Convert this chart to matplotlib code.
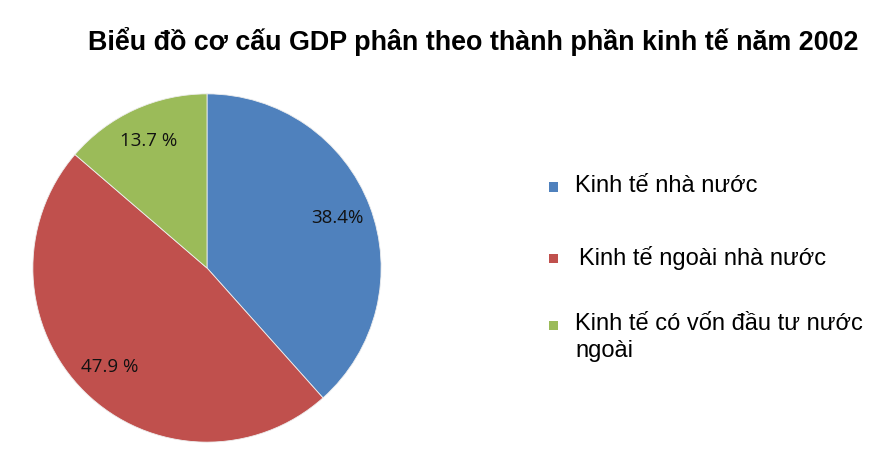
import matplotlib
matplotlib.use('Agg')
import matplotlib.pyplot as plt
from matplotlib.patches import Rectangle

# GDP structure by economic sector, 2002 (%)
sectors = ['Kinh tế nhà nước', 'Kinh tế ngoài nhà nước', 'Kinh tế có vốn đầu tư nước\nngoài']
shares = [38.4, 47.9, 13.7]
pct_labels = ['38.4%', '47.9 %', '13.7 %']
colors = ['#4F81BD', '#C0504D', '#9BBB59']

plt.rcParams['font.family'] = ['Liberation Sans', 'DejaVu Sans']

W, H = 885, 455
fig = plt.figure(figsize=(W / 100, H / 100), dpi=100)
ax = fig.add_axes([32 / W, (H - 443) / H, 350 / W, 350 / H])

wedges, _, autotexts = ax.pie(shares, colors=colors, startangle=90, counterclock=False,
                              autopct='%1.1f', pctdistance=0.8,
                              wedgeprops=dict(edgecolor='#eeeeee', linewidth=0.6))
for t, lab in zip(autotexts, pct_labels):
    t.set_text(lab)
    t.set_fontsize(13.5)
    t.set_family(['Open Sans', 'DejaVu Sans'])
    t.set_color('#111111')
ax.set_xlim(-1.005, 1.005)
ax.set_ylim(-1.005, 1.005)
ax.set_aspect('equal')

fig.text(473 / W, 1 - 42 / H, 'Biểu đồ cơ cấu GDP phân theo thành phần kinh tế năm 2002',
         ha='center', va='center', fontsize=19.4, fontweight='bold')

# legend drawn by hand so the marker sits on the first line of a wrapped label
rows_y = [187, 258, 325]
text_x = [575, 579, 575]
for y, tx, c, lab in zip(rows_y, text_x, colors, sectors):
    fig.patches.append(Rectangle(((553 - 4.5) / W, 1 - (y + 4.5) / H), 9 / W, 9 / H,
                                 transform=fig.transFigure, facecolor=c, edgecolor='none'))
    fig.text(tx / W, 1 - (y - 12) / H, lab, ha='left', va='top', fontsize=17,
             linespacing=1.27)

fig.savefig('out.png', dpi=100, facecolor='white')
